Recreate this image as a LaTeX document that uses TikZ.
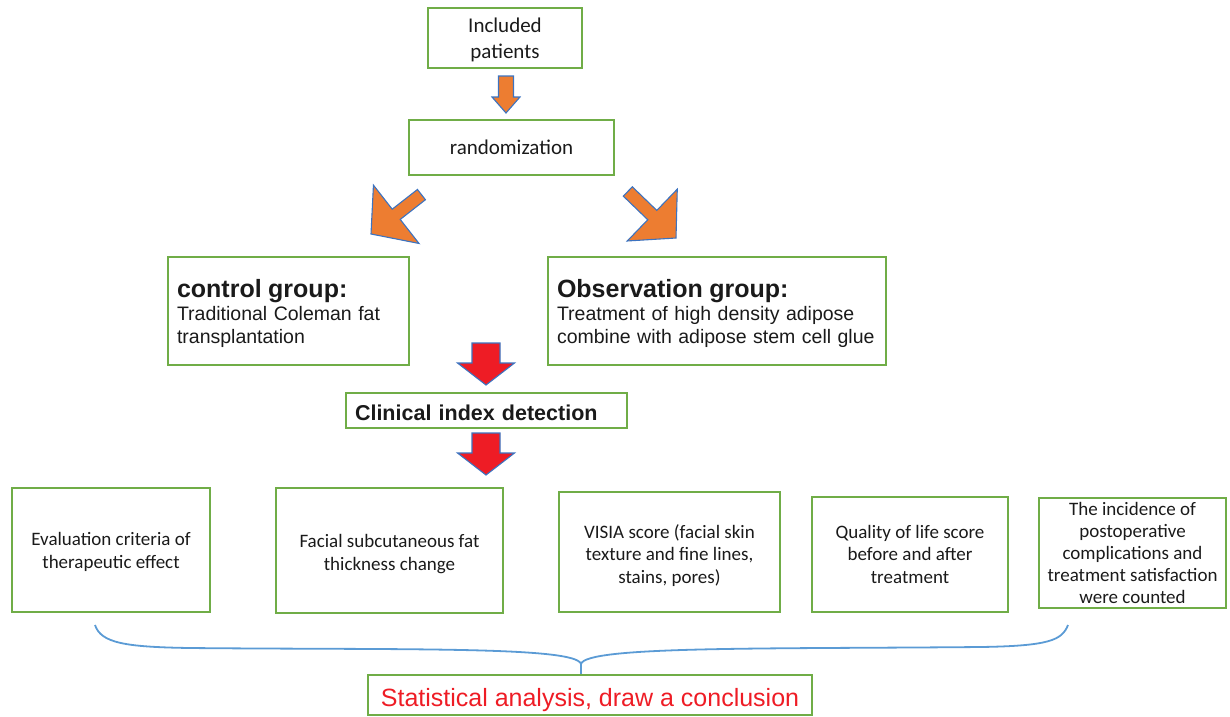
\documentclass[tikz,border=0pt]{standalone}
\usepackage{fontspec}
\setmainfont{Carlito}
\newfontfamily\arialf{Liberation Sans}
\definecolor{gr}{HTML}{70AD47}
\definecolor{orng}{HTML}{ED7D31}
\definecolor{outl}{HTML}{3C73C0}
\definecolor{rd}{HTML}{EE1C25}
\definecolor{brc}{HTML}{5B9BD5}
\definecolor{txt}{HTML}{1A1A1A}
\begin{document}
\begin{tikzpicture}[x=1pt,y=-1pt,
  gbox/.style={draw=gr, line width=1.8pt, inner sep=0pt, text=txt},
  calfont/.style={font=\fontsize{21}{26}\selectfont},
  botfont/.style={font=\fontsize{19}{22.5}\selectfont},
  grpfont/.style={font=\arialf\fontsize{19.5}{23}\selectfont},
  orarrow/.style={fill=orng, draw=outl, line width=1.1pt, line join=miter},
  rdarrow/.style={fill=rd, draw=outl, line width=1.1pt, line join=miter},
  bracestyle/.style={draw=brc, line width=1.8pt}]
\useasboundingbox (0,0) rectangle (1230,716);
% boxes
\node[gbox, calfont, align=center, text height=41pt, text depth=0pt, minimum width=154pt, minimum height=60pt] (inc) at (505,38) {Included\\patients};
\node[gbox, calfont, minimum width=205pt, minimum height=55pt] (rand) at (511.5,147.5) {randomization};
\node[gbox, grpfont, align=left, text width=223pt, text height=0pt, text depth=28pt, minimum width=241pt, minimum height=108pt] (ctrl) at (288.5,311)
  {{\fontsize{25}{28}\selectfont\bfseries control group:}\\Traditional Coleman fat\\transplantation};
\node[gbox, grpfont, align=left, text width=320pt, text height=0pt, text depth=28pt, minimum width=338pt, minimum height=108pt] (obs) at (717,311)
  {{\fontsize{25}{28}\selectfont\bfseries Observation group:}\\Treatment of high density adipose\\combine with adipose stem cell glue};
\node[gbox, font=\arialf\bfseries\fontsize{21.5}{25}\selectfont, align=left, text width=263pt, text height=19pt, text depth=0pt, minimum width=281pt, minimum height=35pt] (clin) at (486.5,410.5) {Clinical index detection};
\node[gbox, botfont, align=center, text height=36pt, text depth=0pt, minimum width=198pt, minimum height=124pt] (b1) at (111,550) {Evaluation criteria of\\therapeutic effect};
\node[gbox, botfont, align=center, text height=39pt, text depth=0pt, minimum width=227pt, minimum height=125pt] (b2) at (389.5,550.5) {Facial subcutaneous fat\\thickness change};
\node[gbox, botfont, align=center, text height=62pt, text depth=0pt, minimum width=221pt, minimum height=120pt] (b3) at (669.5,552) {VISIA score (facial skin\\texture and fine lines,\\stains, pores)};
\node[gbox, botfont, align=center, text height=57pt, text depth=0pt, minimum width=196pt, minimum height=115pt] (b4) at (910,554.5) {Quality of life score\\before and after\\treatment};
\node[gbox, font=\fontsize{19}{22}\selectfont, align=center, text height=100pt, text depth=0pt, minimum width=187pt, minimum height=110pt] (b5) at (1132.5,553) {The incidence of\\postoperative\\complications and\\treatment satisfaction\\were counted};
\node[gbox, text=rd, font=\arialf\fontsize{25}{29}\selectfont, text height=22pt, text depth=0pt, minimum width=444pt, minimum height=40pt] (stat) at (590,695) {Statistical analysis, draw a conclusion};
% arrow tips
\coordinate (t1) at (506,113);
\coordinate (t2) at (371,234);
\coordinate (t3) at (676,238);
\coordinate (t4) at (486,385);
\coordinate (t5) at (486,475);
% orange down arrow
\begin{scope}[shift={(t1)}]
  \draw[orarrow] (0,0) -- (14,-16) -- (7.5,-16) -- (7.5,-37) -- (-7.5,-37) -- (-7.5,-16) -- (-14,-16) -- cycle;
\end{scope}
% diagonal orange arrows
\begin{scope}[shift={(t2)}, rotate=-52]
  \draw[orarrow] (0,0) -- (37,-32) -- (6.5,-32) -- (6.5,-64) -- (-6.5,-64) -- (-6.5,-32) -- (-37,-32) -- cycle;
\end{scope}
\begin{scope}[shift={(t3)}, rotate=46]
  \draw[orarrow] (0,0) -- (36,-33) -- (6.5,-33) -- (6.5,-67) -- (-6.5,-67) -- (-6.5,-33) -- (-36,-33) -- cycle;
\end{scope}
% red arrows
\begin{scope}[shift={(t4)}]
  \draw[rdarrow] (0,0) -- (28.5,-22) -- (14,-22) -- (14,-42) -- (-14,-42) -- (-14,-22) -- (-28.5,-22) -- cycle;
\end{scope}
\begin{scope}[shift={(t5)}]
  \draw[rdarrow] (0,0) -- (28.5,-22) -- (14,-22) -- (14,-42) -- (-14,-42) -- (-14,-22) -- (-28.5,-22) -- cycle;
\end{scope}
% brace
\coordinate (bl) at (95,625);
\coordinate (br) at (1068,625);
\coordinate (bc) at (581,664);
\draw[bracestyle] (bl) .. controls (101,643) and (125,647) .. (190,648)
  .. controls (400,650) and (576,646) .. (bc)
  .. controls (586,646) and (760,649) .. (980,647)
  .. controls (1050,646) and (1062,640) .. (br);
\draw[bracestyle] (bc) -- (stat.north -| bc);
\end{tikzpicture}
\end{document}
